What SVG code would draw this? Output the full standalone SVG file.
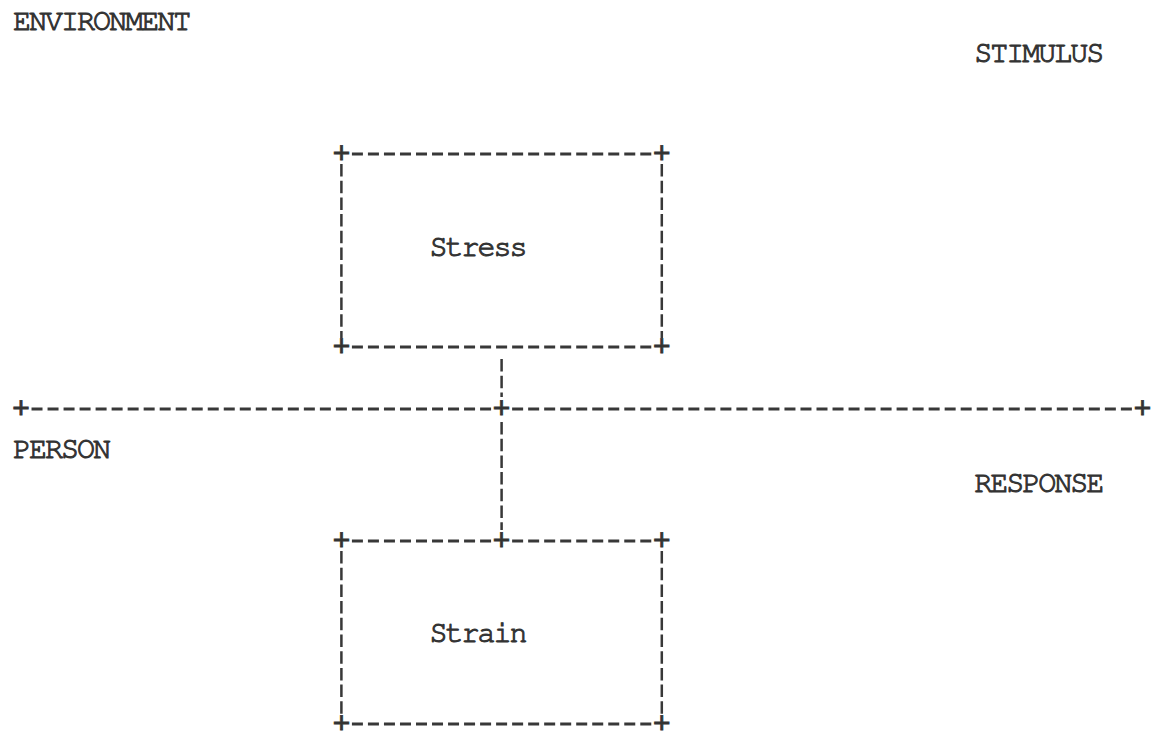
<svg xmlns="http://www.w3.org/2000/svg" width="1159" height="734" viewBox="0 0 1159 734">
  <style>
    .type { font-family: "Nimbus Mono PS", "FreeMono", "Liberation Mono", monospace; font-size: 30px; letter-spacing: -1.98px; fill: #333333; stroke: #333333; stroke-width: 1; }
    .plus { font-family: "Liberation Mono", monospace; font-size: 30px; fill: #333333; stroke: #333333; stroke-width: 0.8; text-anchor: middle; }
    .hdash { stroke: #383838; stroke-width: 2.8; stroke-dasharray: 11 5.02; fill: none; }
    .vdash { stroke: #383838; stroke-width: 2.5; stroke-dasharray: 12.5 4.2; fill: none; }
  </style>
  <rect width="1159" height="734" fill="#ffffff"/>

  <!-- region labels -->
  <g id="labels">
    <text class="type" x="13" y="30">ENVIRONMENT</text>
    <text class="type" x="974.2" y="62">STIMULUS</text>
    <text class="type" x="13" y="458">PERSON</text>
    <text class="type" x="974.2" y="492">RESPONSE</text>
  </g>

  <!-- Stress box -->
  <g id="stress">
    <line class="hdash" x1="351.92" y1="154" x2="651.28" y2="154"/>
    <line class="hdash" x1="351.92" y1="347" x2="651.28" y2="347"/>
    <line class="vdash" x1="341.4" y1="164" x2="341.4" y2="338"/>
    <line class="vdash" x1="661.8" y1="164" x2="661.8" y2="338"/>
    <text class="plus" x="341.4" y="163">+</text>
    <text class="plus" x="661.8" y="163">+</text>
    <text class="plus" x="341.4" y="356">+</text>
    <text class="plus" x="661.8" y="356">+</text>
    <text class="type" x="429.5" y="256">Stress</text>
  </g>

  <!-- Strain box -->
  <g id="strain">
    <line class="hdash" x1="351.92" y1="541" x2="491.08" y2="541"/>
    <line class="hdash" x1="512.12" y1="541" x2="651.28" y2="541"/>
    <line class="hdash" x1="351.92" y1="724" x2="651.28" y2="724"/>
    <line class="vdash" x1="341.4" y1="551" x2="341.4" y2="715"/>
    <line class="vdash" x1="661.8" y1="551" x2="661.8" y2="715"/>
    <text class="plus" x="341.4" y="550">+</text>
    <text class="plus" x="501.6" y="550">+</text>
    <text class="plus" x="661.8" y="550">+</text>
    <text class="plus" x="341.4" y="733">+</text>
    <text class="plus" x="661.8" y="733">+</text>
    <text class="type" x="429.5" y="642">Strain</text>
  </g>

  <!-- connectors: boundary line and the Stress-Strain link -->
  <g id="connectors">
    <line class="hdash" x1="31.52" y1="409" x2="491.08" y2="409"/>
    <line class="hdash" x1="512.12" y1="409" x2="1131.88" y2="409"/>
    <text class="plus" x="21" y="418">+</text>
    <text class="plus" x="501.6" y="418">+</text>
    <text class="plus" x="1142.4" y="418">+</text>
    <line class="vdash" x1="501.6" y1="359" x2="501.6" y2="397"/>
    <line class="vdash" x1="501.6" y1="422" x2="501.6" y2="530"/>
  </g>
</svg>
